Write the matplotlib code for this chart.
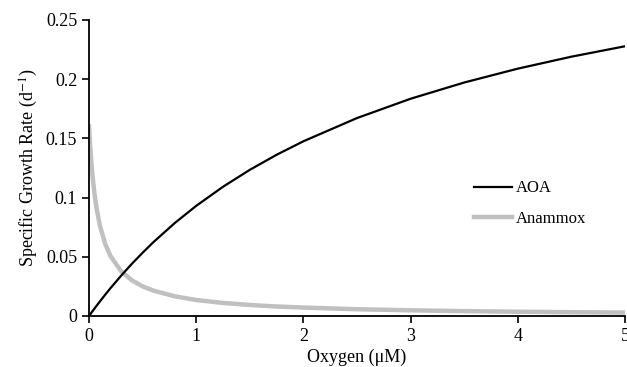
import matplotlib
matplotlib.use("Agg")
import matplotlib.pyplot as plt

plt.rcParams['font.family'] = ['Liberation Serif', 'DejaVu Serif']
plt.rcParams['mathtext.fontset'] = 'stix'

# values
oxygen = [0, 0.01, 0.02, 0.035, 0.05, 0.07, 0.1, 0.15, 0.2, 0.3, 0.4, 0.5, 0.6, 0.8,
          1.0, 1.25, 1.5, 1.75, 2, 2.5, 3, 3.5, 4, 4.5, 5]
aoa = [0, 0.00125, 0.0025, 0.0044, 0.0062, 0.0086, 0.0121, 0.0179, 0.0235, 0.0341,
       0.0441, 0.0534, 0.0623, 0.0785, 0.0930, 0.1091, 0.1234, 0.1361, 0.1475,
       0.1671, 0.1834, 0.1971, 0.2088, 0.2189, 0.2277]
anammox = [0.16, 0.144, 0.1316, 0.116, 0.1039, 0.091, 0.0769, 0.0610, 0.0506, 0.0377,
           0.0301, 0.0250, 0.0214, 0.0166, 0.0135, 0.0110, 0.0093, 0.0080, 0.0071,
           0.0057, 0.0048, 0.0041, 0.0036, 0.0032, 0.0029]

fig = plt.figure(figsize=(6.27, 3.67), dpi=100)
ax = fig.add_axes([0.142, 0.139, 0.855, 0.807])

ax.plot(oxygen, aoa, color='black', lw=1.6, label='AOA', zorder=3)
ax.plot(oxygen, anammox, color='#c0c0c0', lw=3.2, label='Anammox', zorder=2)

ax.set_xlim(0, 5)
ax.set_ylim(0, 0.25)
ax.set_xticks([0, 1, 2, 3, 4, 5])
ax.set_yticks([0, 0.05, 0.1, 0.15, 0.2, 0.25])
ax.set_yticklabels(['0', '0.05', '0.1', '0.15', '0.2', '0.25'])
ax.set_xticklabels(['0', '1', '2', '3', '4', '5'])

for s in ['top', 'right']:
    ax.spines[s].set_visible(False)
for s in ['left', 'bottom']:
    ax.spines[s].set_linewidth(1.3)
ax.tick_params(direction='out', length=5, width=1.2, labelsize=13)

ax.set_xlabel('Oxygen (μM)', fontsize=13, labelpad=3)
ax.set_ylabel('Specific Growth Rate (d$^{-1}$)', fontsize=13)

ax.legend(loc='center left', bbox_to_anchor=(0.69, 0.38), frameon=False,
          fontsize=12, handlelength=2.3, handletextpad=0.2, labelspacing=0.85)

fig.savefig('out.png', dpi=100)
